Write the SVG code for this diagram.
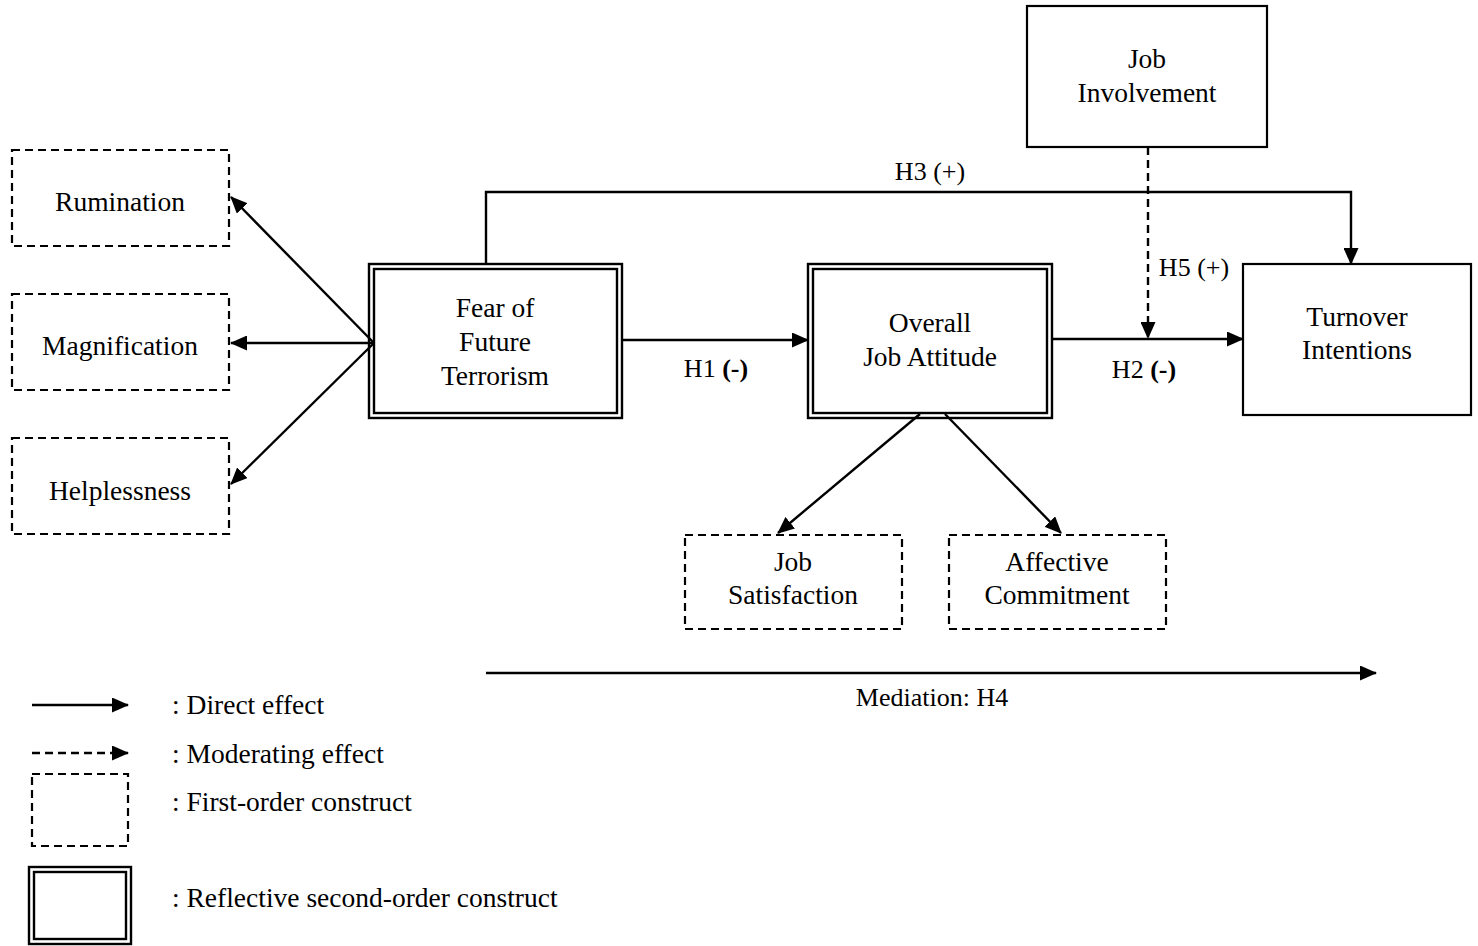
<svg xmlns="http://www.w3.org/2000/svg" width="1478" height="946" viewBox="0 0 1478 946">
<style>
text{font-family:"Liberation Serif","Times New Roman",serif;fill:#000}
.n{font-size:27.5px;text-anchor:middle}
.l{font-size:26px;text-anchor:middle}
.g{font-size:27.5px}
.solid{fill:#fff;stroke:#000;stroke-width:2.2}
.dash{fill:#fff;stroke:#000;stroke-width:2.2;stroke-dasharray:8 5}
.dbl{fill:none;stroke:#000;stroke-width:2.4}
.c{fill:none;stroke:#000;stroke-width:2.4}
.cd{fill:none;stroke:#000;stroke-width:2.4;stroke-dasharray:8 5}
</style>
<defs>
<marker id="ah" markerUnits="userSpaceOnUse" markerWidth="17" markerHeight="15" refX="16" refY="7.5" orient="auto">
<path d="M0,0 L17,7.5 L0,15 Z" fill="#000"/>
</marker>
</defs>
<rect width="1478" height="946" fill="#fff"/>

<g id="connectors">
<line class="c" x1="374" y1="343" x2="231" y2="197" marker-end="url(#ah)"/>
<line class="c" x1="374" y1="343" x2="231" y2="343" marker-end="url(#ah)"/>
<line class="c" x1="374" y1="343" x2="231" y2="484" marker-end="url(#ah)"/>
<line class="c" x1="622" y1="340" x2="808" y2="340" marker-end="url(#ah)"/>
<line class="c" x1="1052" y1="339" x2="1243" y2="339" marker-end="url(#ah)"/>
<polyline class="c" points="486,264 486,192 1351,192 1351,264" marker-end="url(#ah)"/>
<line class="cd" x1="1148" y1="147" x2="1148" y2="338" marker-end="url(#ah)"/>
<line class="c" x1="920" y1="414" x2="778" y2="533" marker-end="url(#ah)"/>
<line class="c" x1="945" y1="414" x2="1061" y2="533" marker-end="url(#ah)"/>
<line class="c" x1="486" y1="673" x2="1376" y2="673" marker-end="url(#ah)"/>
<text class="l" x="930" y="180">H3 (+)</text>
<text class="l" x="716" y="377">H1 <tspan font-weight="bold">(-)</tspan></text>
<text class="l" x="1144" y="378">H2 <tspan font-weight="bold">(-)</tspan></text>
<text class="l" x="1194" y="276">H5 (+)</text>
<text class="l" x="932" y="706">Mediation: H4</text>
</g>

<g id="rumination">
<rect class="dash" x="12" y="150" width="217" height="96"/>
<text class="n" x="120" y="211">Rumination</text>
</g>
<g id="magnification">
<rect class="dash" x="12" y="294" width="217" height="96"/>
<text class="n" x="120" y="355">Magnification</text>
</g>
<g id="helplessness">
<rect class="dash" x="12" y="438" width="217" height="96"/>
<text class="n" x="120" y="500">Helplessness</text>
</g>

<g id="fear">
<rect class="dbl" x="369" y="264" width="253" height="154" fill="#fff"/>
<rect class="dbl" x="374" y="269" width="243" height="144"/>
<text class="n" x="495" y="317">Fear of</text>
<text class="n" x="495" y="351">Future</text>
<text class="n" x="495" y="385">Terrorism</text>
</g>

<g id="attitude">
<rect class="dbl" x="808" y="264" width="244" height="154"/>
<rect class="dbl" x="813" y="269" width="234" height="144"/>
<text class="n" x="930" y="332">Overall</text>
<text class="n" x="930" y="366">Job Attitude</text>
</g>

<g id="involvement">
<rect class="solid" x="1027" y="6" width="240" height="141"/>
<text class="n" x="1147" y="68">Job</text>
<text class="n" x="1147" y="102">Involvement</text>
</g>

<g id="turnover">
<rect class="solid" x="1243" y="264" width="228" height="151"/>
<text class="n" x="1357" y="326">Turnover</text>
<text class="n" x="1357" y="359">Intentions</text>
</g>

<g id="satisfaction">
<rect class="dash" x="685" y="535" width="217" height="94"/>
<text class="n" x="793" y="571">Job</text>
<text class="n" x="793" y="604">Satisfaction</text>
</g>

<g id="commitment">
<rect class="dash" x="949" y="535" width="217" height="94"/>
<text class="n" x="1057" y="571">Affective</text>
<text class="n" x="1057" y="604">Commitment</text>
</g>

<g id="legend">
<line class="c" x1="32" y1="705" x2="128" y2="705" marker-end="url(#ah)"/>
<line class="cd" x1="32" y1="753" x2="128" y2="753" marker-end="url(#ah)"/>
<rect class="dash" x="32" y="774" width="96" height="72"/>
<rect class="dbl" x="29" y="867" width="102" height="77"/>
<rect class="dbl" x="34" y="872" width="92" height="67"/>
<text class="g" x="172" y="714">: Direct effect</text>
<text class="g" x="172" y="763">: Moderating effect</text>
<text class="g" x="172" y="811">: First-order construct</text>
<text class="g" x="172" y="907">: Reflective second-order construct</text>
</g>
</svg>
